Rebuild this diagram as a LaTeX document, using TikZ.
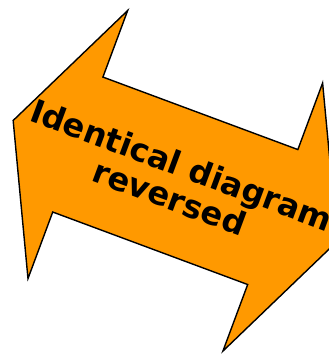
\documentclass[tikz,border=0pt]{standalone}
\usepackage{fontspec}
\setsansfont{DejaVu Sans}

\definecolor{arroworange}{RGB}{255,153,0}

\begin{document}
\begin{tikzpicture}[x=1pt,y=1pt,font=\sffamily\bfseries]
  \useasboundingbox (0,0) rectangle (329,354);

  % Double arrow
  \begin{scope}[shift={(175.3,173.2)},rotate=-20.4]
    \draw[line width=1.4pt,line join=miter,fill=arroworange]
      (-173,0) -- (-104,143) -- (-104,72) -- (104,72) -- (104,143)
      -- (173,0) -- (104,-143) -- (104,-72) -- (-104,-72) -- (-104,-143) -- cycle;
  \end{scope}

  % Label
  \node[rotate=-20.4,align=center,font=\fontsize{32.2}{34.6}\selectfont\sffamily\bfseries]
    (label) at (175.8,173.0) {Identical diagram\\reversed};
\end{tikzpicture}
\end{document}
